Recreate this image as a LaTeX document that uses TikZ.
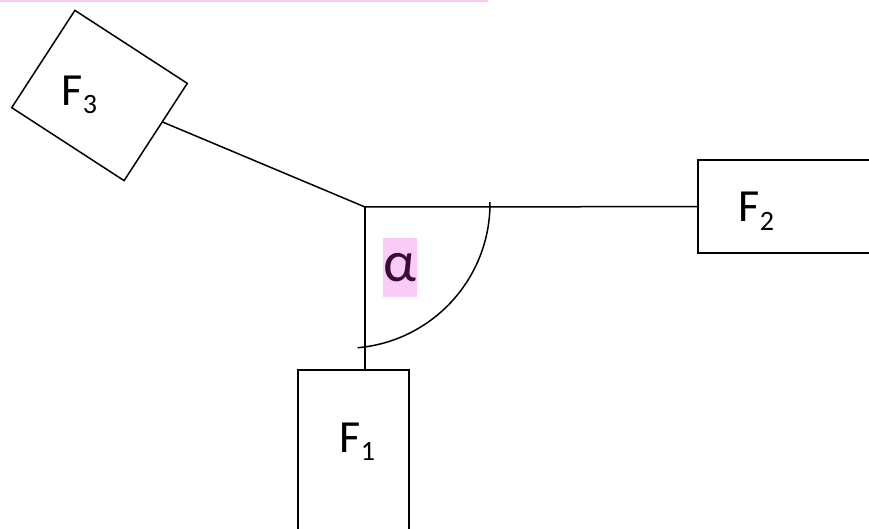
\documentclass[tikz,border=0pt]{standalone}
\usepackage{fontspec}
\setmainfont{Carlito}
\usepackage[dvipsnames]{xcolor}
\definecolor{hlpink}{HTML}{F9CCF5}
\definecolor{alphaink}{HTML}{3B0A3B}
\newcommand{\fsub}[1]{F\raisebox{-8pt}{\fontsize{28}{28}\selectfont #1}}

\begin{document}
\begin{tikzpicture}[x=1pt,y=1pt,-,line width=1.5pt,force node/.style={draw,rectangle,inner sep=0pt},force label/.style={anchor=base west,inner sep=0pt,font=\fontsize{46}{46}\selectfont}]
                \useasboundingbox (0,0) rectangle (869,528);
                \fill[hlpink] (0,526) rectangle (488,528);
                \coordinate (o) at (365,321);
                \node[force node,minimum width=111,minimum height=190] (f1) at (353.5,63) {};
                \node[force node,minimum width=202,minimum height=93] (f2) at (799,321.5) {};
                \node[force node,minimum width=134,minimum height=116,rotate=-33] (f3) at (99.5,432.5) {};
                \node[force label] (f1 label) at (339,76) {\fsub{1}};
                \node[force label] (f2 label) at (738,306) {\fsub{2}};
                \node[force label] (f3 label) at (61,422) {\fsub{3}};
                \node[fill=hlpink,text=alphaink,inner sep=0pt,minimum width=34,minimum height=59,font=\fontsize{58}{58}\selectfont] (alpha) at (400,260.5) {α};
    
                \path
                    (o) edge (f2)
                    (o) edge (o |- f1.north)
                    (o) edge (f3)
                    ;
                \coordinate (ac) at (345,324.7);
                \draw ([shift={(0.5:145)}]ac) arc[start angle=0.5,end angle=-85,radius=145];
            \end{tikzpicture}
\end{document}
